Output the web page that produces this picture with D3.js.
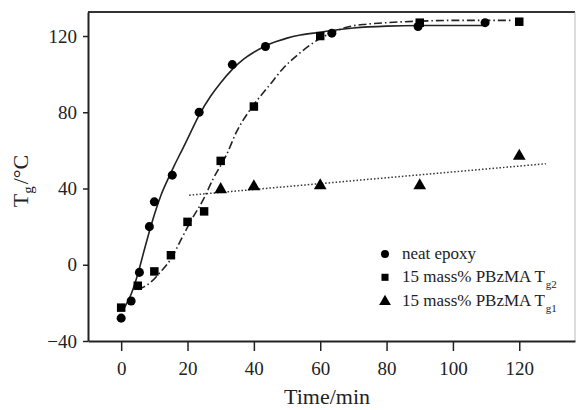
<!DOCTYPE html>
<html><head><meta charset="utf-8">
<script src="https://cdn.jsdelivr.net/npm/d3@7"></script>
<style>
html,body{margin:0;padding:0;background:#fff;}
svg{display:block;}
text{font-family:"Liberation Serif","Times New Roman",serif;fill:#222;}
</style></head>
<body><svg id="c" width="577" height="410"></svg>
<script>
// ---- data ----
const epoxyTime = [0, 3, 5.5, 8.5, 10, 15.4, 23.5, 33.5, 43.5, 63.5, 89.5, 109.7];
const epoxyTg   = [-28, -19, -4, 20, 33, 47, 80, 105, 114.5, 121.5, 125, 127];
const tg2Time = [0, 5, 10, 15, 20, 25, 30, 40, 60, 90, 120];
const tg2Val  = [-22.5, -11, -3.5, 5, 22.5, 28, 54.5, 83, 120, 127, 127.5];
const tg1Time = [30, 40, 60, 90, 120];
const tg1Val  = [39.5, 41, 41.5, 41.5, 57];
// fitted curves
const epoxyFitT = [1, 3, 5, 7, 9, 10.5, 12, 14, 16, 18, 20, 23.5, 27, 30, 33.5, 37, 40, 43.5, 47, 50, 54, 60, 64, 70, 80, 90, 100, 110];
const epoxyFitY = [-22.5, -15.5, -5, 8, 20.5, 29, 36.5, 44.5, 52, 59, 66, 78.5, 88.5, 95.5, 102.5, 108, 111.5, 114.8, 117.2, 118.9, 120.5, 122, 123, 124.2, 125.2, 125.5, 125.5, 125.5];
const tg2FitT = [5, 7, 9, 12, 15, 18.2, 21, 24.7, 27.7, 31.7, 34.8, 40, 44.8, 48.8, 53.8, 58.4, 63.9, 68.9, 74, 80, 90, 100, 110, 118];
const tg2FitY = [-13, -11.5, -9, -3.5, 3, 13.7, 23, 34, 45, 57.5, 69.8, 84, 94.4, 103, 111, 117, 122, 125, 126.2, 127, 127.8, 128.2, 128.2, 128.2];
const tg1FitT = [20.5, 128];
const tg1FitY = [36.5, 53];
const xTicks = [0, 20, 40, 60, 80, 100, 120];
const yTicks = [-40, 0, 40, 80, 120];
const legendLabels = [["neat epoxy", ""], ["15 mass% PBzMA T", "g2"], ["15 mass% PBzMA T", "g1"]];

// ---- drawing ----
const svg = d3.select("#c");
const L = 88, R = 575, T = 12, B = 341;
const x = d3.scaleLinear().domain([-10, 136.8]).range([L, R]);
const y = d3.scaleLinear().domain([-40, 132.6]).range([B, T]);

// frame
svg.append("line").attr("x1", L).attr("x2", R).attr("y1", T).attr("y2", T).attr("stroke", "#333").attr("stroke-width", 2);
svg.append("line").attr("x1", R).attr("x2", R).attr("y1", T).attr("y2", B).attr("stroke", "#bbb").attr("stroke-width", 1);

const xAxis = svg.append("g").attr("transform", `translate(0,${B})`)
  .call(d3.axisBottom(x).tickValues(xTicks).tickSize(10).tickSizeOuter(0).tickPadding(6));
const yAxis = svg.append("g").attr("transform", `translate(${L},0)`)
  .call(d3.axisLeft(y).tickValues(yTicks).tickSize(5).tickSizeOuter(0).tickPadding(6)
    .tickFormat(d => d < 0 ? "\u2212" + Math.abs(d) : d));
[xAxis, yAxis].forEach(g => {
  g.attr("font-family", "Liberation Serif, Times New Roman, serif");
  g.select(".domain").attr("stroke", "#222").attr("stroke-width", 2);
  g.selectAll(".tick line").attr("stroke", "#222").attr("stroke-width", 1.5);
  g.selectAll("text").attr("font-size", 19).attr("fill", "#222")
    .attr("font-family", "Liberation Serif, Times New Roman, serif");
});
xAxis.selectAll("text").attr("dy", "0.95em");

// fit lines
const line = d3.line().x(d => x(d[0])).y(d => y(d[1]));
svg.append("path").datum(d3.zip(epoxyFitT, epoxyFitY))
  .attr("d", line.curve(d3.curveMonotoneX)).attr("fill", "none").attr("stroke", "#222").attr("stroke-width", 1.6);
svg.append("path").datum(d3.zip(tg2FitT, tg2FitY))
  .attr("d", line.curve(d3.curveMonotoneX)).attr("fill", "none").attr("stroke", "#222").attr("stroke-width", 1.6)
  .attr("stroke-dasharray", "8,3,1.5,3");
svg.append("path").datum(d3.zip(tg1FitT, tg1FitY))
  .attr("d", line.curve(d3.curveLinear)).attr("fill", "none").attr("stroke", "#333").attr("stroke-width", 1.5)
  .attr("stroke-dasharray", "1.5,2");

// markers
const symCircle = d3.symbol().type(d3.symbolCircle).size(64);
const symSquare = d3.symbol().type(d3.symbolSquare).size(72);
const symTri = d3.symbol().type(d3.symbolTriangle).size(70);
svg.append("g").selectAll("path").data(d3.zip(epoxyTime, epoxyTg)).join("path")
  .attr("d", symCircle).attr("transform", d => `translate(${x(d[0])},${y(d[1])})`).attr("fill", "#000");
svg.append("g").selectAll("path").data(d3.zip(tg2Time, tg2Val)).join("path")
  .attr("d", symSquare).attr("transform", d => `translate(${x(d[0])},${y(d[1])})`).attr("fill", "#000");
svg.append("g").selectAll("path").data(d3.zip(tg1Time, tg1Val)).join("path")
  .attr("d", symTri).attr("transform", d => `translate(${x(d[0])},${y(d[1])})`).attr("fill", "#000");

// legend
const legSyms = [d3.symbol().type(d3.symbolCircle).size(50), d3.symbol().type(d3.symbolSquare).size(50), d3.symbol().type(d3.symbolTriangle).size(60)];
const leg = svg.append("g");
legendLabels.forEach((lab, i) => {
  const cy = 254 + i * 23.3;
  leg.append("path").attr("d", legSyms[i]).attr("transform", `translate(385,${cy + (i === 2 ? 1 : 0)})`).attr("fill", "#000");
  const t = leg.append("text").attr("x", 402).attr("y", cy + 5).attr("font-size", 17);
  t.append("tspan").text(lab[0]);
  if (lab[1]) t.append("tspan").attr("font-size", 11).attr("dy", 6).attr("dx", 1).text(lab[1]);
});

// axis titles
svg.append("text").attr("x", 327).attr("y", 404).attr("text-anchor", "middle").attr("font-size", 22).text("Time/min");
const yl = svg.append("text").attr("transform", "translate(28,181) rotate(-90)").attr("text-anchor", "middle").attr("font-size", 22);
yl.append("tspan").text("T");
yl.append("tspan").attr("font-size", 15).attr("dy", 5).text("g");
yl.append("tspan").attr("dy", -5).attr("dx", 2).text("/°C");
</script></body></html>
